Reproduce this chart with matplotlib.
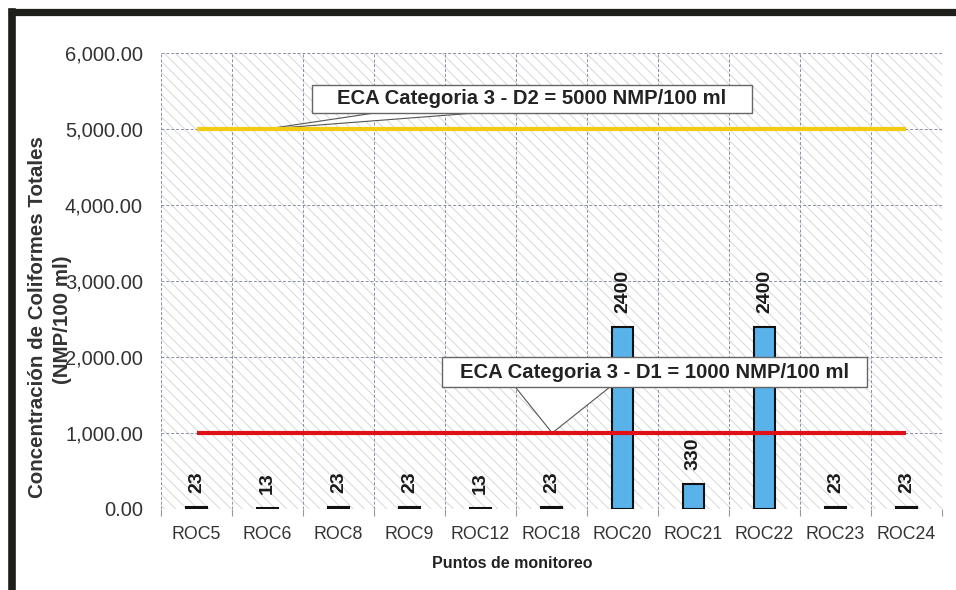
import matplotlib
matplotlib.use("Agg")
import matplotlib.pyplot as plt
from matplotlib.patches import Rectangle, Polygon
from matplotlib.lines import Line2D
from matplotlib.ticker import FuncFormatter, FixedLocator

plt.rcParams['font.family'] = ['Liberation Sans', 'DejaVu Sans']
plt.rcParams['hatch.linewidth'] = 0.6

# ---- data ----
categories = ["ROC5", "ROC6", "ROC8", "ROC9", "ROC12", "ROC18",
              "ROC20", "ROC21", "ROC22", "ROC23", "ROC24"]
values = [23, 13, 23, 23, 13, 23, 2400, 330, 2400, 23, 23]
eca_d2 = 5000
eca_d1 = 1000
label_d2 = "ECA Categoria 3 - D2 = 5000 NMP/100 ml"
label_d1 = "ECA Categoria 3 - D1 = 1000 NMP/100 ml"
y_ticks = [0, 1000, 2000, 3000, 4000, 5000, 6000]

W, H = 956, 590
fig = plt.figure(figsize=(W / 100, H / 100), dpi=100)
fig.patch.set_facecolor("white")

def px(x0, y0, x1, y1):
    return [x0 / W, 1 - y1 / H, (x1 - x0) / W, (y1 - y0) / H]

ax = fig.add_axes(px(161, 53, 942, 509))
n = len(categories)
xs = list(range(n))
ax.set_xlim(-0.5, n - 0.5)
ax.set_ylim(0, 6000)

# hatched background
ax.set_facecolor("white")
bg = Rectangle((0, 0), 1, 1, transform=ax.transAxes, facecolor="white",
               edgecolor="#d2d2d2", hatch="\\\\\\", linewidth=0, zorder=0)
ax.add_patch(bg)

# grid
ax.set_xticks(xs)
ax.xaxis.set_minor_locator(FixedLocator([i - 0.5 for i in range(n + 1)]))
ax.set_yticks(y_ticks)
ax.grid(which="minor", axis="x", color="#8890a8", linestyle=(0, (3, 2)), linewidth=0.7, zorder=0.5)
ax.grid(which="major", axis="y", color="#8890a8", linestyle=(0, (3, 2)), linewidth=0.7, zorder=0.5)
ax.grid(which="major", axis="x", visible=False)
ax.set_axisbelow(True)
for s in ax.spines.values():
    s.set_visible(False)

# bars
bars = ax.bar(xs, values, width=0.3, color="#5ab2ea", edgecolor="#111111", linewidth=1.5, zorder=2)
for x, v in zip(xs, values):
    ax.annotate(f"{v}", (x, v), xytext=(0, 10), textcoords="offset points",
                rotation=90, ha="center", va="bottom", fontsize=14, fontweight="bold",
                color="#1a1a1a", zorder=6)

# limit lines
ax.plot([xs[0], xs[-1]], [eca_d2, eca_d2], color="#f2cc10", linewidth=3, zorder=5, solid_capstyle="butt")
ax.plot([xs[0], xs[-1]], [eca_d1, eca_d1], color="#e01018", linewidth=3, zorder=5, solid_capstyle="butt")

# callouts
def callout(x0, x1, y0, y1, wedge, text):
    ax.add_patch(Polygon(wedge, closed=True, facecolor="white", edgecolor="#555555",
                         linewidth=0.8, zorder=3.5))
    ax.add_patch(Rectangle((x0, y0), x1 - x0, y1 - y0, facecolor="white",
                           edgecolor="#666666", linewidth=1.0, zorder=4))
    ax.text((x0 + x1) / 2, (y0 + y1) / 2, text, ha="center", va="center",
            fontsize=14.6, fontweight="bold", color="#222222", zorder=4.5)

callout(1.63, 7.82, 5211, 5579, [(2.65, 5230), (4.20, 5230), (0.99, eca_d2)], label_d2)
callout(3.46, 9.45, 1605, 2000, [(4.46, 1640), (5.87, 1640), (5.01, eca_d1)], label_d1)

# ticks
ax.yaxis.set_major_formatter(FuncFormatter(lambda v, p: f"{v:,.2f}"))
ax.tick_params(axis="y", which="major", length=0, pad=13, labelsize=14.5, labelcolor="#333333")
ax.set_xticklabels(categories)
ax.tick_params(axis="x", which="major", length=0, pad=12, labelsize=12.8, labelcolor="#333333")
ax.tick_params(axis="x", which="minor", length=5, width=0.8, color="#999999", direction="out")

# axis titles
fig.text(512 / W, 1 - 563 / H, "Puntos de monitoreo", ha="center", va="center",
         fontsize=11.5, fontweight="bold", color="#222222")
fig.text(38 / W, 1 - 317 / H, "Concentración de Coliformes Totales", rotation=90,
         ha="center", va="center", fontsize=14.8, fontweight="bold", color="#333333")
fig.text(62 / W, 1 - 320 / H, "(NMP/100 ml)", rotation=90,
         ha="center", va="center", fontsize=14.8, fontweight="bold", color="#333333")

# outer frame
fig.add_artist(Line2D([12 / W, 12 / W], [0, 1 - 11.5 / H], color="#1e1e1a", linewidth=5.5,
                      transform=fig.transFigure, solid_capstyle="projecting"))
fig.add_artist(Line2D([12 / W, 1.0], [1 - 11.5 / H, 1 - 11.5 / H], color="#1e1e1a", linewidth=5.2,
                      transform=fig.transFigure, solid_capstyle="projecting"))

fig.savefig("out.png", dpi=100)
